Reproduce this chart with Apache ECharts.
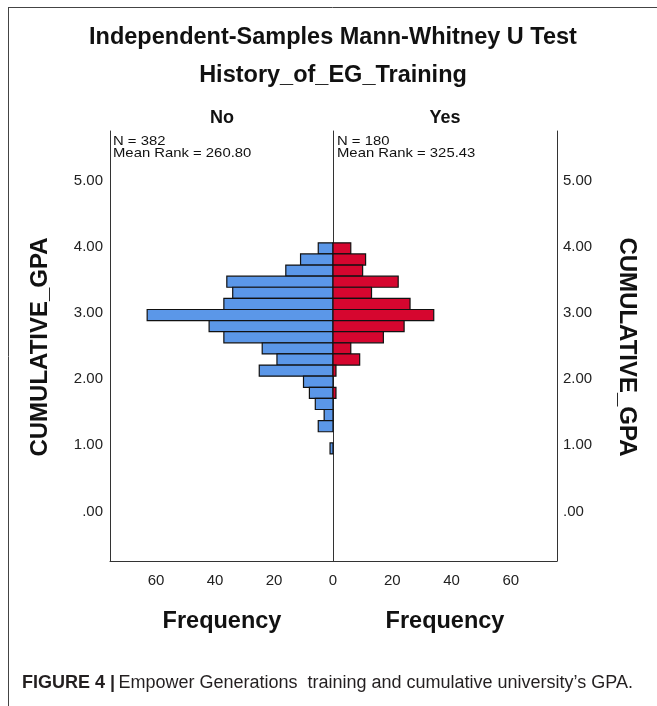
<!DOCTYPE html>
<html>
<head>
<meta charset="utf-8">
<script src="https://cdn.jsdelivr.net/npm/echarts@6/dist/echarts.min.js"></script>
<style>html,body{margin:0;padding:0;background:#fff;}#chart{width:657px;height:706px;}</style>
</head>
<body>
<div id="chart"></div>
<script>
// GPA bin edges (top to bottom), 19 bins
const binEdges = [4.06, 3.892, 3.724, 3.556, 3.388, 3.22, 3.052, 2.884, 2.716, 2.548, 2.38, 2.212, 2.044, 1.876, 1.708, 1.54, 1.372, 1.204, 1.036, 0.868];
// Frequencies per bin (top to bottom)
const freqNo  = [5, 11, 16, 36, 34, 37, 63, 42, 37, 24, 19, 25, 10, 8, 6, 3, 5, 0, 1];
const freqYes = [6, 11, 10, 22, 13, 26, 34, 24, 17, 6, 9, 1, 0, 1, 0, 0, 0, 0, 0];
const groups = ['No', 'Yes'];
const groupN = ['N = 382', 'N = 180'];
const groupMeanRank = ['Mean Rank = 260.80', 'Mean Rank = 325.43'];
const yTicks = [0, 1, 2, 3, 4, 5];
const xTicksLeft = [20, 40, 60];
const xTicksRight = [0, 20, 40, 60];

const FONT = '"Liberation Sans", Arial, sans-serif';
const yMin = -0.75, yMax = 5.75, xMax = 75.6;

function toData(freq) {
  return freq.map((c, i) => [binEdges[i + 1], binEdges[i], c]);
}
function renderBar(color) {
  return function (params, api) {
    const c = api.value(2);
    if (!c) return null;
    const p1 = api.coord([0, api.value(1)]);
    const p2 = api.coord([c, api.value(0)]);
    return {
      type: 'rect',
      shape: {
        x: Math.min(p1[0], p2[0]),
        y: p1[1],
        width: Math.abs(p2[0] - p1[0]),
        height: p2[1] - p1[1]
      },
      style: { fill: color, stroke: '#111', lineWidth: 1.2 }
    };
  };
}
const yLabelFmt = v => (v === 0 ? '.00' : v.toFixed(2));
const axisLineStyle = { color: '#333', width: 1 };

const chart = echarts.init(document.getElementById('chart'), null, { renderer: 'canvas' });
chart.setOption({
  animation: false,
  backgroundColor: '#fff',
  grid: [
    { left: 110, top: 131, width: 223, height: 430 },
    { left: 333, top: 131, width: 224, height: 430 }
  ],
  xAxis: [
    {
      gridIndex: 0, type: 'value', min: 0, max: xMax, inverse: true,
      axisLine: { show: true, onZero: false, lineStyle: axisLineStyle }, axisTick: { show: false },
      splitLine: { show: false },
      axisLabel: { customValues: xTicksLeft, fontFamily: FONT, fontSize: 15, color: '#222', margin: 12 }
    },
    {
      gridIndex: 1, type: 'value', min: 0, max: xMax,
      axisLine: { show: true, onZero: false, lineStyle: axisLineStyle }, axisTick: { show: false },
      splitLine: { show: false },
      axisLabel: { customValues: xTicksRight, fontFamily: FONT, fontSize: 15, color: '#222', margin: 12 }
    }
  ],
  yAxis: [
    {
      gridIndex: 0, type: 'value', min: yMin, max: yMax, position: 'left',
      axisLine: { show: true, onZero: false, lineStyle: axisLineStyle }, axisTick: { show: false },
      splitLine: { show: false },
      axisLabel: { customValues: yTicks, formatter: yLabelFmt, fontFamily: FONT, fontSize: 15, color: '#222', margin: 7 }
    },
    {
      gridIndex: 1, type: 'value', min: yMin, max: yMax, position: 'left',
      axisLine: { show: true, onZero: false, lineStyle: axisLineStyle }, axisTick: { show: false },
      splitLine: { show: false }, axisLabel: { show: false }
    },
    {
      gridIndex: 1, type: 'value', min: yMin, max: yMax, position: 'right',
      axisLine: { show: true, onZero: false, lineStyle: axisLineStyle }, axisTick: { show: false },
      splitLine: { show: false },
      axisLabel: { customValues: yTicks, formatter: yLabelFmt, fontFamily: FONT, fontSize: 15, color: '#222', margin: 6 }
    }
  ],
  series: [
    {
      type: 'custom', name: groups[0], xAxisIndex: 0, yAxisIndex: 0,
      renderItem: renderBar('#5b97e8'), encode: { x: 2, y: [0, 1] }, data: toData(freqNo)
    },
    {
      type: 'custom', name: groups[1], xAxisIndex: 1, yAxisIndex: 1,
      renderItem: renderBar('#d6062f'), encode: { x: 2, y: [0, 1] }, data: toData(freqYes)
    }
  ],
  graphic: [
    { type: 'line', shape: { x1: 8, y1: 7.5, x2: 657, y2: 7.5 }, style: { stroke: '#444', lineWidth: 1 } },
    { type: 'line', shape: { x1: 8.5, y1: 7, x2: 8.5, y2: 706 }, style: { stroke: '#444', lineWidth: 1 } },
    { type: 'text', x: 333, y: 38, style: { text: 'Independent-Samples Mann-Whitney U Test', font: 'bold 23.5px ' + FONT, fill: '#111', align: 'center', verticalAlign: 'middle' } },
    { type: 'text', x: 333, y: 76, style: { text: 'History_of_EG_Training', font: 'bold 23.5px ' + FONT, fill: '#111', align: 'center', verticalAlign: 'middle' } },
    { type: 'text', x: 222, y: 118, style: { text: groups[0], font: 'bold 18px ' + FONT, fill: '#111', align: 'center', verticalAlign: 'middle' } },
    { type: 'text', x: 445, y: 118, style: { text: groups[1], font: 'bold 18px ' + FONT, fill: '#111', align: 'center', verticalAlign: 'middle' } },
    { type: 'text', x: 113, y: 141, scaleX: 1.1, style: { text: groupN[0], font: '13.5px ' + FONT, fill: '#111', align: 'left', verticalAlign: 'middle' } },
    { type: 'text', x: 113, y: 153.5, scaleX: 1.1, style: { text: groupMeanRank[0], font: '13.5px ' + FONT, fill: '#111', align: 'left', verticalAlign: 'middle' } },
    { type: 'text', x: 337, y: 141, scaleX: 1.1, style: { text: groupN[1], font: '13.5px ' + FONT, fill: '#111', align: 'left', verticalAlign: 'middle' } },
    { type: 'text', x: 337, y: 153.5, scaleX: 1.1, style: { text: groupMeanRank[1], font: '13.5px ' + FONT, fill: '#111', align: 'left', verticalAlign: 'middle' } },
    { type: 'text', x: 222, y: 622, style: { text: 'Frequency', font: 'bold 23.5px ' + FONT, fill: '#111', align: 'center', verticalAlign: 'middle' } },
    { type: 'text', x: 445, y: 622, style: { text: 'Frequency', font: 'bold 23.5px ' + FONT, fill: '#111', align: 'center', verticalAlign: 'middle' } },
    { type: 'text', x: 40, y: 347, rotation: Math.PI / 2, style: { text: 'CUMULATIVE_GPA', font: 'bold 24px ' + FONT, fill: '#111', align: 'center', verticalAlign: 'middle' } },
    { type: 'text', x: 627, y: 347, rotation: -Math.PI / 2, style: { text: 'CUMULATIVE_GPA', font: 'bold 24px ' + FONT, fill: '#111', align: 'center', verticalAlign: 'middle' } },
    { type: 'text', x: 22, y: 683, style: {
        text: '{b|FIGURE 4 |} {r|Empower Generations  training and cumulative university\u2019s GPA.}',
        rich: {
          b: { font: 'bold 18px ' + FONT, fill: '#231f20' },
          r: { font: '18px ' + FONT, fill: '#231f20' }
        },
        align: 'left', verticalAlign: 'middle' } }
  ]
});
</script>
</body>
</html>
